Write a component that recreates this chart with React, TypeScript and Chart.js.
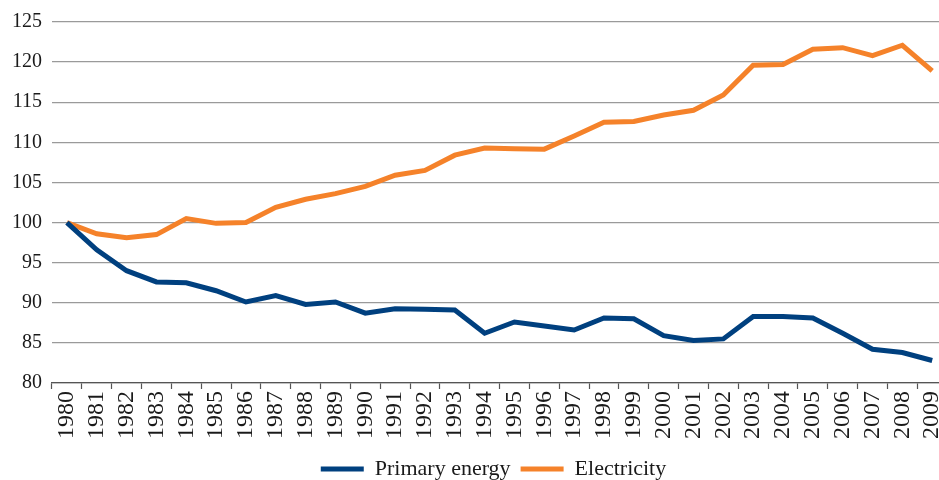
import React, { useEffect, useRef } from "react";
import { Chart, registerables } from "chart.js";

Chart.register(...registerables);

const years = [
  "1980", "1981", "1982", "1983", "1984", "1985", "1986", "1987", "1988", "1989",
  "1990", "1991", "1992", "1993", "1994", "1995", "1996", "1997", "1998", "1999",
  "2000", "2001", "2002", "2003", "2004", "2005", "2006", "2007", "2008", "2009",
];

const primaryEnergy = [
  100.0, 96.6, 94.0, 92.6, 92.5, 91.5, 90.1, 90.9, 89.8, 90.1,
  88.7, 89.25, 89.2, 89.1, 86.2, 87.6, 87.1, 86.6, 88.1, 88.0,
  85.9, 85.3, 85.5, 88.3, 88.3, 88.1, 86.2, 84.2, 83.8, 82.8,
];

const electricity = [
  100.0, 98.6, 98.1, 98.5, 100.5, 99.9, 100.0, 101.9, 102.9, 103.6,
  104.5, 105.9, 106.5, 108.4, 109.3, 109.2, 109.15, 110.8, 112.5, 112.6,
  113.4, 114.0, 115.9, 119.6, 119.7, 121.6, 121.8, 120.8, 122.1, 118.9,
];

const yTicks = [80, 85, 90, 95, 100, 105, 110, 115, 120, 125];

const BLUE = "#00407f";
const ORANGE = "#f5822a";
const FONT = "'Liberation Serif', 'Times New Roman', serif";
const W = 963;

const legendShift = {
  id: "legendShift",
  afterUpdate(chart: any) {
    const lg = chart.legend;
    if (lg) {
      lg.left += 12;
      lg.right += 12;
    }
  },
};

export default function App() {
  const ref = useRef<HTMLCanvasElement | null>(null);

  useEffect(() => {
    if (!ref.current) return;
    const chart = new Chart(ref.current, {
      type: "line",
      data: {
        labels: years,
        datasets: [
          {
            label: "Primary energy",
            data: primaryEnergy,
            borderColor: BLUE,
            backgroundColor: BLUE,
            borderWidth: 5,
            pointRadius: 0,
            tension: 0,
          },
          {
            label: "Electricity",
            data: electricity,
            borderColor: ORANGE,
            backgroundColor: ORANGE,
            borderWidth: 5,
            pointRadius: 0,
            tension: 0,
          },
        ],
      },
      plugins: [legendShift],
      options: {
        animation: false,
        responsive: false,
        maintainAspectRatio: false,
        layout: { padding: { left: 0, right: 0, top: 18, bottom: -10 } },
        plugins: {
          tooltip: { enabled: false },
          legend: {
            position: "bottom",
            labels: {
              font: { family: FONT, size: 22 },
              color: "#1a1a1a",
              boxWidth: 43,
              boxHeight: 5,
              padding: 10,
              generateLabels: (c: any) =>
                c.data.datasets.map((d: any, i: number) => ({
                  text: d.label,
                  fillStyle: d.borderColor,
                  strokeStyle: d.borderColor,
                  lineWidth: 0,
                  hidden: false,
                  datasetIndex: i,
                  fontColor: "#1a1a1a",
                })),
            },
          },
        },
        scales: {
          x: {
            type: "category",
            offset: true,
            afterFit: (s: any) => {
              s.height = 65;
            },
            grid: {
              display: true,
              drawOnChartArea: false,
              drawTicks: true,
              tickLength: 6,
              tickWidth: 1.2,
              tickColor: "#555",
              offset: true,
            },
            border: { display: true, color: "#555", width: 1.3 },
            ticks: {
              minRotation: 90,
              maxRotation: 90,
              autoSkip: false,
              padding: 2,
              color: "#1a1a1a",
              font: { family: FONT, size: 24 },
            },
          },
          y: {
            min: 80,
            max: 125,
            afterFit: (s: any) => {
              s.width = 52;
            },
            afterBuildTicks: (s: any) => {
              s.ticks = yTicks.map((v) => ({ value: v }));
            },
            grid: {
              color: "#9a9a9a",
              lineWidth: 1.3,
              drawTicks: false,
            },
            border: { display: false },
            ticks: {
              padding: 10,
              color: "#1a1a1a",
              font: { family: FONT, size: 20 },
            },
          },
        },
      },
    });
    return () => chart.destroy();
  }, []);

  return (
    <div style={{ position: "fixed", left: 0, top: 0, width: W, height: 480 }}>
      <canvas ref={ref} width={W} height={480} style={{ width: W, height: 480 }} />
    </div>
  );
}
